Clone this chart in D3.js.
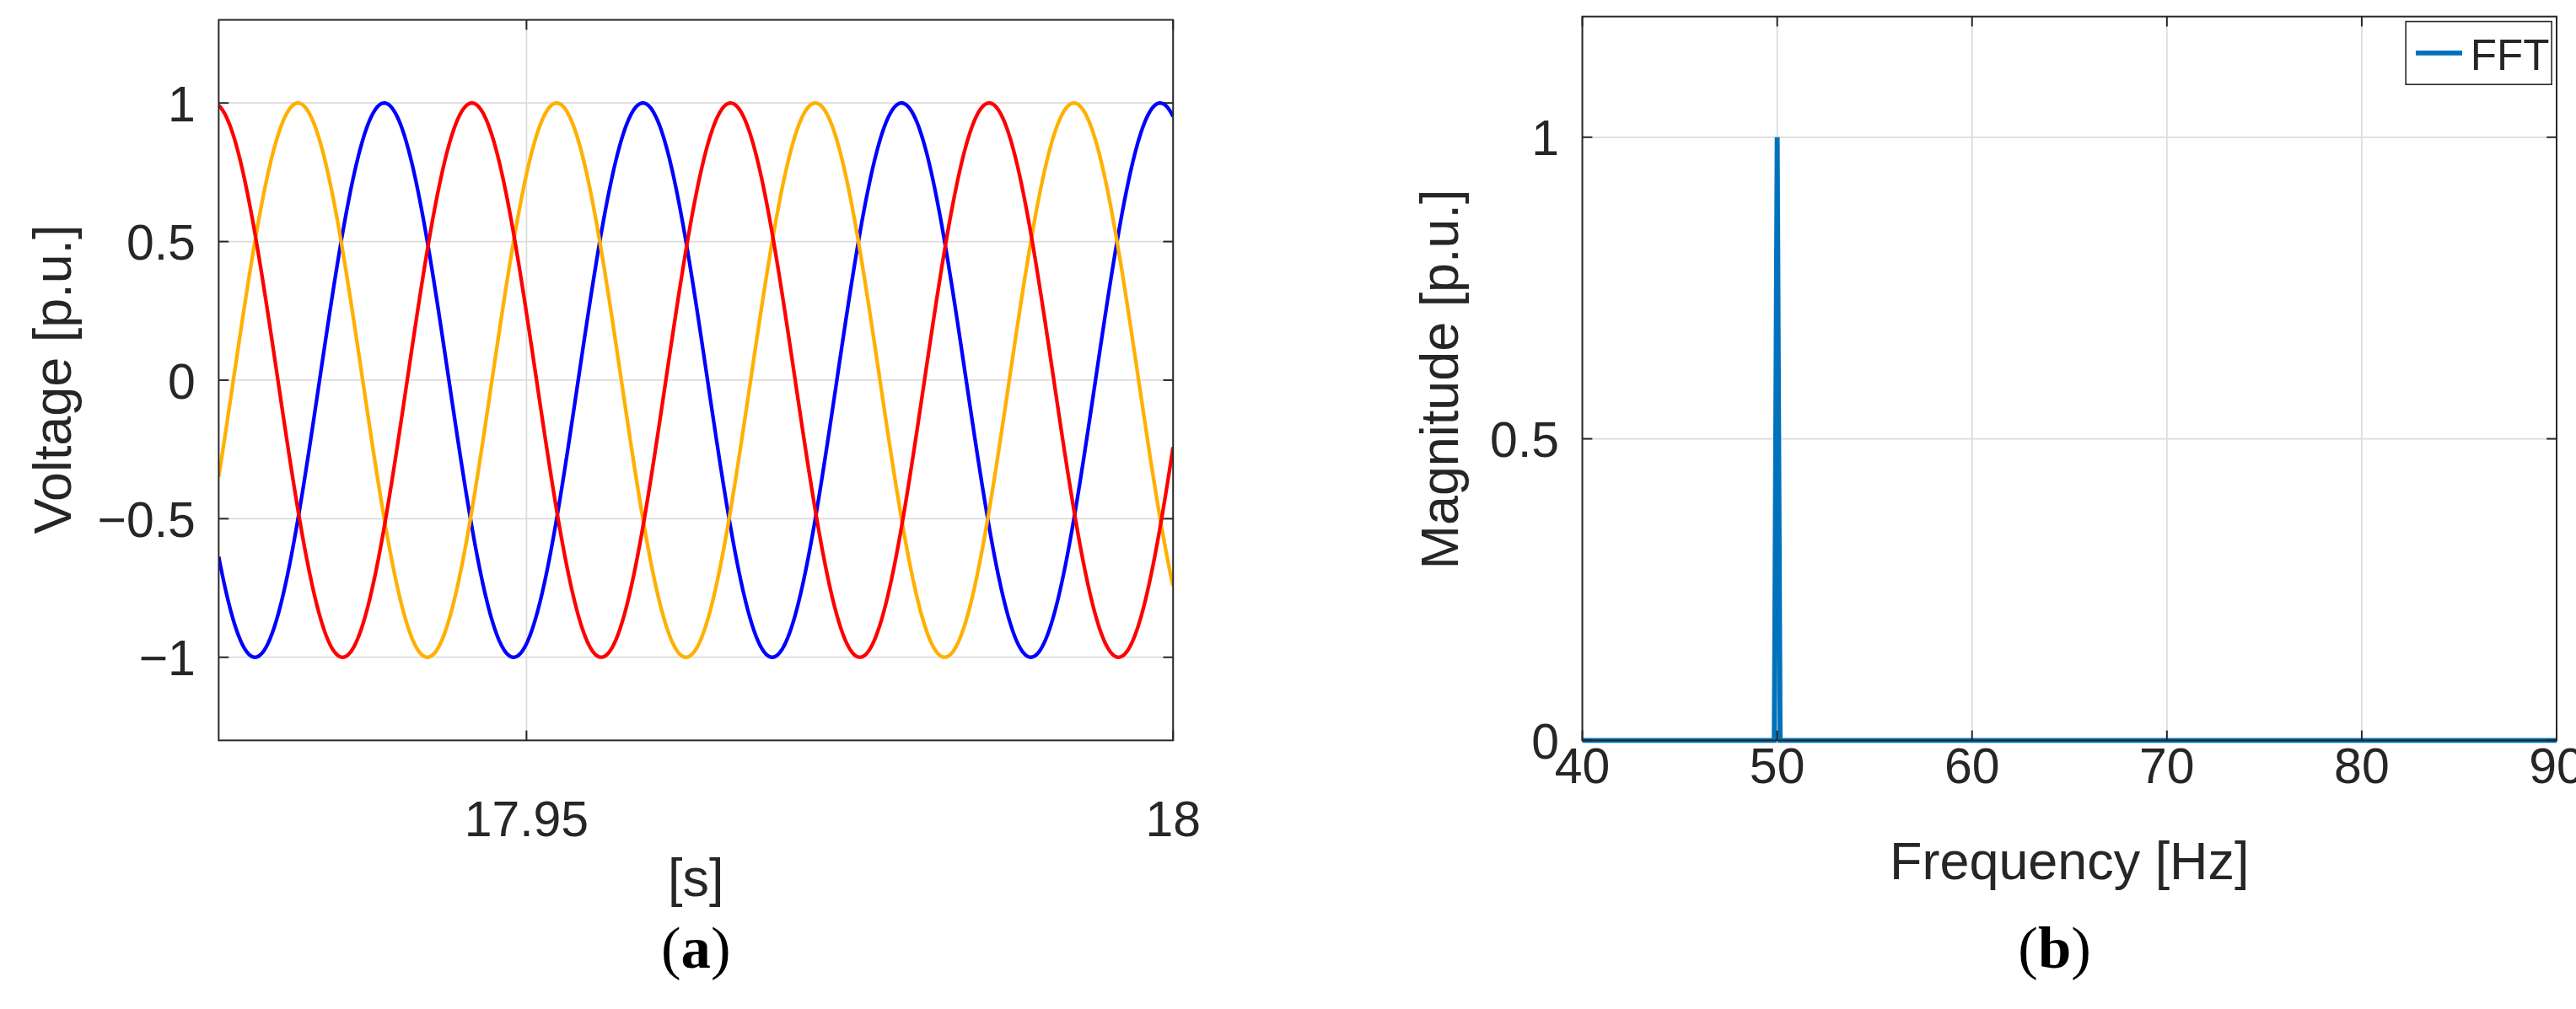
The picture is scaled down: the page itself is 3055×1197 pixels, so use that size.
<!DOCTYPE html>
<html><head><meta charset="utf-8">
<script src="https://cdn.jsdelivr.net/npm/d3@7"></script>
<style>body{margin:0;background:#fff}svg text{font-family:"Liberation Sans",Arial,sans-serif}</style>
</head><body><svg id="c" width="3055" height="1197"></svg>
<script>
// Panel (a): three-phase voltages (amplitude, frequency, phase at t=18 s)
const phaseNames = ["blue","orange","red"];
const phaseColors = ["#0000FF","#FFB000","#FF0000"];
const phaseDeg = [18, 138, 256];
const amplitude = [1, 1, 1];
const freqHz = 50;
const timeRange = [17.9262, 18];
const aYTicks = [-1, -0.5, 0, 0.5, 1];
const aXTicks = [17.95, 18];
// Panel (b): FFT spectrum
const fftFreq = [40, 49.85, 50, 50.15, 90];
const fftMag = [0, 0, 1, 0, 0];
const bXTicks = [40, 50, 60, 70, 80, 90];
const bYTicks = [0, 0.5, 1];

const svg = d3.select("#c").append("g").attr("transform", "scale(1.965)");
const fmt = v => (v < 0 ? "\u2212" : "") + Math.abs(v);

function frame(g, x, y, xt, yt) {
  const [x0, x1] = x.range(), [y1, y0] = y.range();
  g.selectAll(".gx").data(xt).join("line").attr("x1", d => x(d)).attr("x2", d => x(d))
    .attr("y1", y0).attr("y2", y1).attr("stroke", "#dcdcdc").attr("stroke-width", 0.9);
  g.selectAll(".gy").data(yt).join("line").attr("y1", d => y(d)).attr("y2", d => y(d))
    .attr("x1", x0).attr("x2", x1).attr("stroke", "#dcdcdc").attr("stroke-width", 0.9);
}
function axesOverlay(g, x, y, xt, yt, xFmt, xLabY) {
  const [x0, x1] = x.range(), [y1, y0] = y.range();
  g.append("rect").attr("x", x0).attr("y", y0).attr("width", x1 - x0).attr("height", y1 - y0)
    .attr("fill", "none").attr("stroke", "#262626").attr("stroke-width", 1);
  xt.forEach(d => {
    g.append("line").attr("x1", x(d)).attr("x2", x(d)).attr("y1", y1).attr("y2", y1 - 6).attr("stroke", "#262626").attr("stroke-width", 1);
    g.append("line").attr("x1", x(d)).attr("x2", x(d)).attr("y1", y0).attr("y2", y0 + 6).attr("stroke", "#262626").attr("stroke-width", 1);
    g.append("text").attr("x", x(d)).attr("y", xLabY).attr("text-anchor", "middle").attr("font-size", 30).attr("fill", "#262626").text(xFmt(d));
  });
  yt.forEach(d => {
    g.append("line").attr("x1", x0).attr("x2", x0 + 6).attr("y1", y(d)).attr("y2", y(d)).attr("stroke", "#262626").attr("stroke-width", 1);
    g.append("line").attr("x1", x1).attr("x2", x1 - 6).attr("y1", y(d)).attr("y2", y(d)).attr("stroke", "#262626").attr("stroke-width", 1);
    g.append("text").attr("x", x0 - 14).attr("y", y(d) + 11).attr("text-anchor", "end").attr("font-size", 30).attr("fill", "#262626").text(fmt(d));
  });
}

// ---- Panel (a)
const xa = d3.scaleLinear().domain(timeRange).range([132, 708]);
const ya = d3.scaleLinear().domain([-1.3, 1.3]).range([447, 12]);
const ga = svg.append("g");
frame(ga, xa, ya, aXTicks, aYTicks);
const N = 800;
const ts = d3.range(N + 1).map(i => timeRange[0] + (timeRange[1] - timeRange[0]) * i / N);
svg.append("clipPath").attr("id", "ca").append("rect").attr("x", 132).attr("y", 12).attr("width", 576).attr("height", 435);
phaseNames.forEach((n, k) => {
  const pts = ts.map(t => [t, amplitude[k] * Math.cos(2 * Math.PI * freqHz * (t - 18) + phaseDeg[k] * Math.PI / 180)]);
  ga.append("path").datum(pts).attr("clip-path", "url(#ca)")
    .attr("d", d3.line().x(d => xa(d[0])).y(d => ya(d[1])))
    .attr("fill", "none").attr("stroke", phaseColors[k]).attr("stroke-width", 2.2);
});
axesOverlay(ga, xa, ya, aXTicks, aYTicks, d => String(d), 505);
ga.append("text").attr("x", 420).attr("y", 541).attr("text-anchor", "middle").attr("font-size", 32).attr("fill", "#262626").text("[s]");
ga.append("text").attr("transform", "translate(43,229) rotate(-90)").attr("text-anchor", "middle").attr("font-size", 32).attr("fill", "#262626").text("Voltage [p.u.]");

// ---- Panel (b)
const xb = d3.scaleLinear().domain([40, 90]).range([955, 1543]);
const yb = d3.scaleLinear().domain([0, 1.2]).range([447, 10]);
const gb = svg.append("g");
frame(gb, xb, yb, bXTicks, bYTicks);
gb.append("path").datum(fftFreq.map((f, i) => [f, fftMag[i]]))
  .attr("d", d3.line().x(d => xb(d[0])).y(d => yb(d[1])))
  .attr("fill", "none").attr("stroke", "#0072BD").attr("stroke-width", 3);
axesOverlay(gb, xb, yb, bXTicks, bYTicks, d => String(d), 473);
gb.append("text").attr("x", 1249).attr("y", 531).attr("text-anchor", "middle").attr("font-size", 32).attr("fill", "#262626").text("Frequency [Hz]");
gb.append("text").attr("transform", "translate(880,229) rotate(-90)").attr("text-anchor", "middle").attr("font-size", 32).attr("fill", "#262626").text("Magnitude [p.u.]");
// legend
gb.append("rect").attr("x", 1452).attr("y", 13).attr("width", 88).attr("height", 38).attr("fill", "#fff").attr("stroke", "#262626").attr("stroke-width", 0.8);
gb.append("line").attr("x1", 1458).attr("x2", 1486).attr("y1", 32).attr("y2", 32).attr("stroke", "#0072BD").attr("stroke-width", 3);
gb.append("text").attr("x", 1491).attr("y", 42).attr("font-size", 26).attr("fill", "#262626").text("FFT");

// captions
[["a", 420], ["b", 1240]].forEach(([c, x]) => {
  const t = svg.append("text").attr("x", x).attr("y", 584).attr("text-anchor", "middle")
    .attr("font-size", 36).attr("fill", "#000").style("font-family", "'Liberation Serif','Times New Roman',serif");
  t.append("tspan").text("(");
  t.append("tspan").attr("font-weight", "bold").text(c);
  t.append("tspan").text(")");
});
</script></body></html>
